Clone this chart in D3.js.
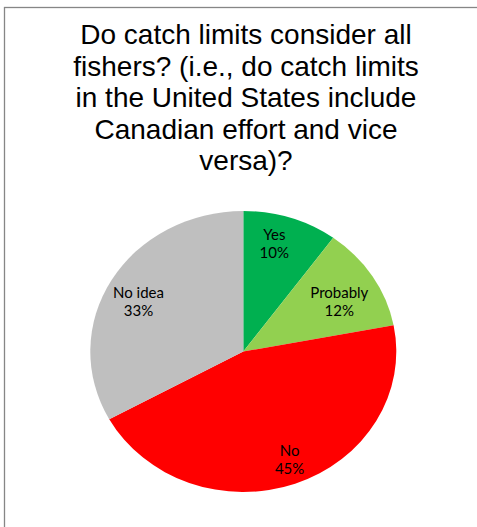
<!DOCTYPE html>
<html>
<head>
<meta charset="utf-8">
<script src="https://cdn.jsdelivr.net/npm/d3@7"></script>
<style>
  html, body { margin: 0; padding: 0; background: #fff; }
  svg { display: block; }
</style>
</head>
<body>
<svg id="chart" width="477" height="527"></svg>
<script>
const titleLines = [
  "Do catch limits consider all",
  "fishers? (i.e., do catch limits",
  "in the United States include",
  "Canadian effort and vice",
  "versa)?"
];
const categories = ["Yes", "Probably", "No", "No idea"];
const values = [10, 12, 45, 33];
const colors = ["#00B050", "#92D050", "#FF0000", "#BFBFBF"];

const svg = d3.select("#chart");
const W = 477, H = 527;

// chart border (extends beyond the window on right/bottom)
svg.append("rect")
  .attr("x", 4.5).attr("y", 7.5)
  .attr("width", W + 20).attr("height", H + 20)
  .attr("fill", "#fff")
  .attr("stroke", "#868686")
  .attr("stroke-width", 1.3);

// title
const title = svg.append("text")
  .attr("text-anchor", "middle")
  .attr("font-family", "'Liberation Sans', Arial, sans-serif")
  .attr("font-size", 28)
  .attr("fill", "#000");
titleLines.forEach((t, i) => {
  title.append("tspan").attr("x", 246).attr("y", 44 + i * 31.5).text(t);
});

// pie (slightly elliptical like the original)
const cx = 243.3, cy = 351.5, ry = 140.5, rx = 153;
const data = categories.map((c, i) => ({ cat: c, value: values[i], color: colors[i] }));
const pie = d3.pie().value(d => d.value).sort(null);
const arcs = pie(data);
const arc = d3.arc().innerRadius(0).outerRadius(ry);

const g = svg.append("g")
  .attr("transform", `translate(${cx},${cy}) scale(${rx / ry},1)`);
g.selectAll("path")
  .data(arcs)
  .enter().append("path")
  .attr("d", arc)
  .attr("fill", d => d.data.color);

// labels
const labelArc = d3.arc().innerRadius(ry * 0.72).outerRadius(ry * 0.72);
const lab = svg.append("g").attr("transform", `translate(${cx},${cy})`);
const labelOffsets = { "Yes": [-3, -11], "Probably": [3, 5], "No": [9, 13], "No idea": [-10, 2] };
arcs.forEach(a => {
  let [x, y] = labelArc.centroid(a);
  x = x * rx / ry + labelOffsets[a.data.cat][0];
  y = y + labelOffsets[a.data.cat][1];
  const t = lab.append("text")
    .attr("text-anchor", "middle")
    .attr("font-family", "Lato, 'Open Sans', sans-serif")
    .attr("font-size", 15)
    .attr("fill", "#000");
  t.append("tspan").attr("x", x).attr("y", y - 4).text(a.data.cat);
  t.append("tspan").attr("x", x).attr("y", y + 14).text(Math.round(a.data.value) + "%");
});
</script>
</body>
</html>
